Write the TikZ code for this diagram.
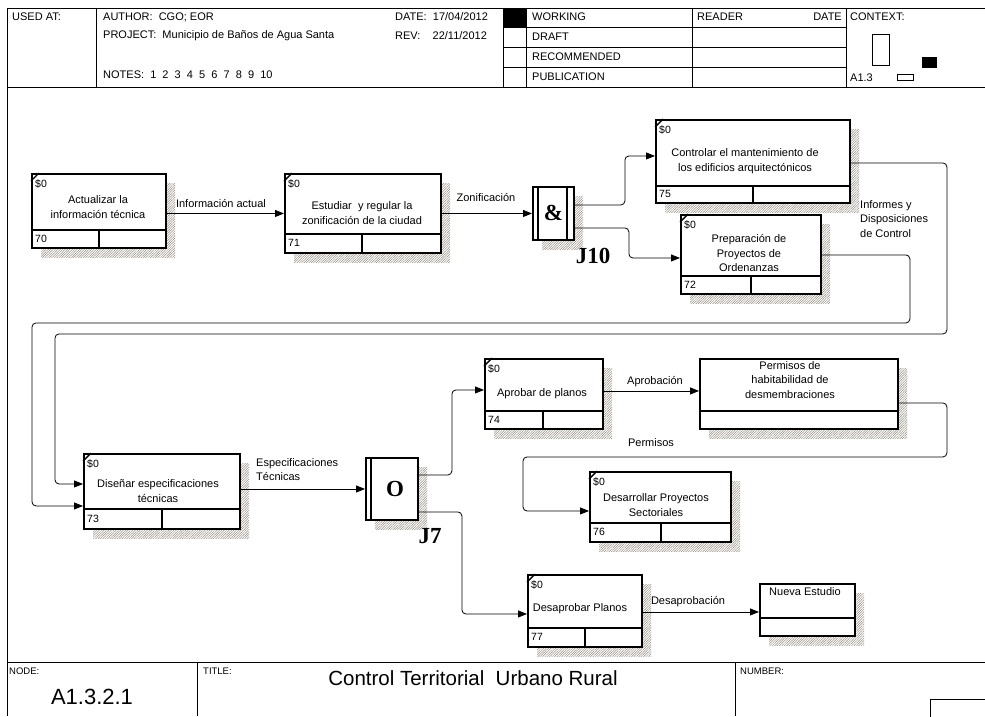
\documentclass[tikz,border=0pt]{standalone}
\usepackage{fontspec}
\setmainfont{Liberation Sans}
\newfontfamily\junctionfont{Liberation Serif}
\usetikzlibrary{arrows.meta,patterns.meta,backgrounds}

\definecolor{shadowgray}{RGB}{150,142,132}

\tikzset{
  frameline/.style={line width=0.9pt},
  boxframe/.style={draw, line width=1.9pt, fill=white, rectangle, inner sep=0pt, anchor=north west},
  rowline/.style={line width=1.5pt},
  flow/.style={line width=0.8pt, rounded corners=4pt, -{Triangle[length=9pt,width=7pt]}},
  boxtext/.style={font=\fontsize{11}{14.5}\selectfont, align=center, inner sep=0pt},
  flowlabel/.style={font=\fontsize{11}{14.5}\selectfont, inner sep=0pt},
  costtag/.style={font=\fontsize{10.5}{12}\selectfont, anchor=west, inner sep=0pt},
  hdrtext/.style={font=\fontsize{11}{12}\selectfont, anchor=west, inner sep=0pt},
  smalltext/.style={font=\fontsize{9.5}{10}\selectfont, anchor=west, inner sep=0pt},
  junctiontext/.style={font=\junctionfont\bfseries\fontsize{23}{24}\selectfont, inner sep=0pt},
  shadowfill/.style={pattern={Lines[angle=45,distance=1.7pt,line width=0.5pt]}, pattern color=shadowgray}
}

% activity box: name, left, top, right, bottom, divider y, split x, number
\newcommand\activity[8]{%
  \begin{pgfonlayer}{background}
    \fill[shadowfill] (#2+10,#3+10) rectangle (#4+10,#5+10);
  \end{pgfonlayer}
  \node[boxframe, minimum width={(#4-#2)*1pt}, minimum height={(#5-#3)*1pt}] (#1) at (#2,#3) {};
  \draw[rowline] (#1.west |- 0,#6) -- (#1.east |- 0,#6);
  \draw[rowline] (#7,#6) -- (#1.south -| #7,0);
  \draw[line width=1.4pt] (#2,#3+8) -- (#2+8,#3);
  \node[costtag] (#1-cost) at (#2+4,#3+11) {\$0};
  \node[costtag] (#1-num) at (#2+4,{(#6+#5)/2}) {#8};
}

% box without cost tag or number: name, left, top, right, bottom, divider y
\newcommand\plainbox[6]{%
  \begin{pgfonlayer}{background}
    \fill[shadowfill] (#2+10,#3+10) rectangle (#4+10,#5+10);
  \end{pgfonlayer}
  \node[boxframe, minimum width={(#4-#2)*1pt}, minimum height={(#5-#3)*1pt}] (#1) at (#2,#3) {};
  \draw[rowline] (#1.west |- 0,#6) -- (#1.east |- 0,#6);
}

\begin{document}
\begin{tikzpicture}[x=1pt,y=-1pt]
\useasboundingbox (0,0) rectangle (985,716);

% ---------- header form ----------
\draw[frameline] (7,8) -- (990,8);
\draw[frameline] (7,87) -- (990,87);
\draw[frameline] (7,8) -- (7,716);
\foreach \xx in {96,503,526,692,846} \draw[frameline] (\xx,8) -- (\xx,87);
\foreach \yy in {27,47,67} \draw[frameline] (503,\yy) -- (846,\yy);
\fill (503,8) rectangle (526,27);

\node[hdrtext] (usedat) at (12,17) {USED AT:};
\node[hdrtext] (author) at (103,17) {AUTHOR:\ \ CGO; EOR};
\node[hdrtext] (project) at (103,36) {PROJECT:\ \ Municipio de Baños de Agua Santa};
\node[hdrtext] (notes) at (103,75) {NOTES:\ \ 1\ \ 2\ \ 3\ \ 4\ \ 5\ \ 6\ \ 7\ \ 8\ \ 9\ \ 10};
\node[hdrtext] (date) at (395,17) {DATE:\ \ 17/04/2012};
\node[hdrtext] (rev) at (395,36) {REV:\ \ \ \ 22/11/2012};
\node[hdrtext] (working) at (532,17) {WORKING};
\node[hdrtext] (draft) at (532,37) {DRAFT};
\node[hdrtext] (recommended) at (532,57) {RECOMMENDED};
\node[hdrtext] (publication) at (532,77) {PUBLICATION};
\node[hdrtext] (reader) at (697,17) {READER};
\node[hdrtext, anchor=east] (rdate) at (842,17) {DATE};
\node[hdrtext] (context) at (850,17) {CONTEXT:};
\node[hdrtext] (ctxnode) at (850,78) {A1.3};
\draw[line width=0.8pt] (872,34) rectangle (889,65);
\fill (922,57) rectangle (937,68);
\draw[line width=0.8pt] (897,74) rectangle (913,80);

% ---------- footer form ----------
\draw[frameline] (7,662) -- (990,662);
\draw[frameline] (197,662) -- (197,716);
\draw[frameline] (735,662) -- (735,716);
\draw[frameline] (930,699) rectangle (995,720);
\node[smalltext] (nodelbl) at (9,671) {NODE:};
\node[smalltext] (titlelbl) at (203,671) {TITLE:};
\node[smalltext] (numberlbl) at (740,671) {NUMBER:};
\node[font=\fontsize{22}{24}\selectfont, inner sep=0pt] (nodeid) at (92,697) {A1.3.2.1};
\node[font=\fontsize{20.5}{24}\selectfont, inner sep=0pt] (title) at (473,678) {Control Territorial\ \ Urbano Rural};

% ---------- activities ----------
\activity{b70}{31}{173}{165}{247}{230}{99}{70}
\node[boxtext] (t70) at (98,207) {Actualizar la\\información técnica};

\activity{b71}{284}{173}{440}{252}{234}{362}{71}
\node[boxtext, text depth=0pt] (t71) at (362,213) {Estudiar\ \ y regular la\\zonificación de la ciudad};

\activity{b75}{655}{119}{849}{202}{186}{753}{75}
\node[boxtext] (t75) at (745,161) {Controlar el mantenimiento de\\los edificios arquitectónicos};

\activity{b72}{680}{214}{820}{293}{276}{751}{72}
\node[boxtext] (t72) at (749,253) {Preparación de\\Proyectos de\\Ordenanzas};

\activity{b73}{83}{453}{239}{528}{509}{162}{73}
\node[boxtext] (t73) at (158,491) {Diseñar especificaciones\\técnicas};

\activity{b74}{484}{358}{602}{428}{411}{543}{74}
\node[boxtext] (t74) at (542,394) {Aprobar de planos};

\plainbox{bP}{699}{358}{897}{428}{411}
\node[boxtext] (tP) at (790,380) {Permisos de\\habitabilidad de\\desmembraciones};

\activity{b76}{589}{471}{730}{541}{523}{661}{76}
\node[boxtext] (t76) at (656,505) {Desarrollar Proyectos\\Sectoriales};

\activity{b77}{527}{574}{641}{646}{628}{585}{77}
\node[boxtext] (t77) at (580,609) {Desaprobar Planos};

\plainbox{bN}{759}{583}{854}{635}{618}
\node[boxtext] (tN) at (805,592) {Nueva Estudio};

% ---------- junctions ----------
\begin{pgfonlayer}{background}
  \fill[shadowfill] (542,196) rectangle (583,249);
  \fill[shadowfill] (375,467) rectangle (427,529);
\end{pgfonlayer}
\node[boxframe, minimum width=41pt, minimum height=53pt] (j10) at (532,186) {};
\draw[line width=1.6pt] (538,186) -- (538,239);
\draw[line width=1.6pt] (567,186) -- (567,239);
\node[junctiontext] (j10sym) at (j10.center) {\&};
\node[junctiontext] (j10lbl) at (593,256) {J10};

\node[boxframe, minimum width=52pt, minimum height=62pt] (j7) at (365,457) {};
\draw[line width=1.6pt] (371,457) -- (371,519);
\node[junctiontext] (j7sym) at ([xshift=3pt]j7.center) {O};
\node[junctiontext] (j7lbl) at (430,536) {J7};

% ---------- connectors ----------
\draw[flow] (b70.east |- b71.west) -- (b71.west);
\node[flowlabel] (l1) at (221,203) {Información actual};

\draw[flow] (b71.east) -- (j10.west);
\node[flowlabel] (l2) at (486,197) {Zonificación};

\draw[flow] ([yshift=8.5pt]j10.east) -- ++(50,0) |- ([yshift=5.5pt]b75.west);
\draw[flow] ([yshift=-14.5pt]j10.east) -- ++(54,0) |- ([yshift=-3.5pt]b72.west);

\draw[flow] ([yshift=-1.5pt]b75.east) -- ++(96,0) -- ++(0,171)
  -| ([xshift=-28pt,yshift=7.5pt]b73.west) -- ([yshift=7.5pt]b73.west);
\draw[flow] ([yshift=-0.5pt]b72.east) -- ++(88,0) -- ++(0,68)
  -| ([xshift=-51pt,yshift=-14.5pt]b73.west) -- ([yshift=-14.5pt]b73.west);
\node[flowlabel, align=left, anchor=north west] (l3) at (860,200) {Informes y\\Disposiciones\\de Control};

\draw[flow] (b73.east |- j7.west) -- (j7.west);
\node[flowlabel, align=left, anchor=north west] (l4) at (256,458) {Especificaciones\\Técnicas};

\draw[flow] ([yshift=14pt]j7.east) -- ++(33,0) |- ([yshift=4pt]b74.west);
\draw[flow] ([yshift=-23pt]j7.east) -- ++(43,0) |- ([yshift=-3pt]b77.west);

\draw[flow] ([yshift=3pt]b74.east) -- ([yshift=3pt]bP.west);
\node[flowlabel] (l5) at (655,382) {Aprobación};

\draw[flow] ([yshift=-9pt]bP.east) -- ++(48,0) -- ++(0,54)
  -| ([xshift=-66pt,yshift=-4pt]b76.west) -- ([yshift=-4pt]b76.west);
\node[flowlabel] (l6) at (651,443) {Permisos};

\draw[flow] ([yshift=-1pt]b77.east) -- ([yshift=-2pt]bN.west);
\node[flowlabel] (l7) at (688,602) {Desaprobación};

\end{tikzpicture}
\end{document}
